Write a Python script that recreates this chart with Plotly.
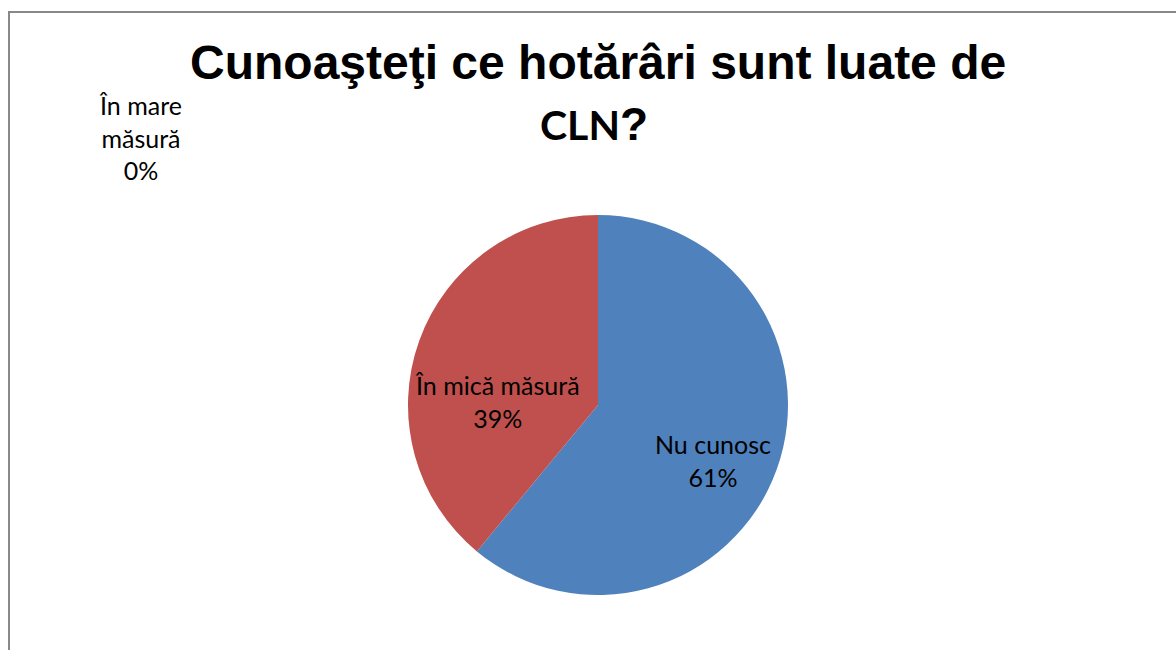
import plotly.graph_objects as go

# Data
categories = ["Nu cunosc", "În mică măsură", "În mare măsură"]
values = [61, 39, 0]
colors = ["#4F81BD", "#C0504D", "#9BBB59"]
title_line1 = "Cunoaşteţi ce hotărâri sunt luate de"
title_line2 = "CLN"

W, H = 1176, 650
cx, cy, R = 598, 405, 190  # pie centre / radius in pixels

fig = go.Figure()
fig.add_trace(go.Pie(
    labels=categories,
    values=values,
    marker=dict(colors=colors, line=dict(color="white", width=0)),
    sort=False,
    direction="clockwise",
    rotation=0,
    textinfo="none",
    hoverinfo="label+percent",
    showlegend=False,
    domain=dict(x=[(cx - R) / W, (cx + R) / W], y=[1 - (cy + R) / H, 1 - (cy - R) / H]),
))

# Data labels (Excel "best fit" style placement)
total = sum(values)
label_lines = {
    "Nu cunosc": "Nu cunosc",
    "În mică măsură": "În mică măsură",
    "În mare măsură": "În mare<br>măsură",
}
label_pos = {  # (pixel x, pixel y) of label centres
    "Nu cunosc": (713, 460),
    "În mică măsură": (497, 401),
    "În mare măsură": (140, 137),
}
for cat, v in zip(categories, values):
    pct = round(100 * v / total)
    px, py = label_pos[cat]
    fig.add_annotation(
        x=px / W, y=1 - py / H, xref="paper", yref="paper",
        text=f"{label_lines[cat]}<br>{pct}%",
        showarrow=False, xanchor="center", yanchor="middle",
        font=dict(family="Lato, Carlito, sans-serif", size=25, color="black"),
    )

# Title
fig.add_annotation(
    x=598 / W, y=1 - 62 / H, xref="paper", yref="paper",
    text=f"<b>{title_line1}</b>", showarrow=False,
    xanchor="center", yanchor="middle",
    font=dict(family="Liberation Sans, Arial, sans-serif", size=48, color="black"),
)
fig.add_annotation(
    x=594 / W, y=1 - 124 / H, xref="paper", yref="paper",
    text=f"<b><span style='font-family:Lato;font-size:41px'>{title_line2}</span>?</b>",
    showarrow=False, xanchor="center", yanchor="middle",
    font=dict(family="Liberation Sans, Arial, sans-serif", size=46, color="black"),
)

# Chart border (only left and top edges visible; the rest is cropped)
fig.add_shape(type="line", xref="paper", yref="paper",
              x0=9 / W, x1=9 / W, y0=0, y1=1 - 12 / H,
              line=dict(color="#888888", width=2))
fig.add_shape(type="line", xref="paper", yref="paper",
              x0=8 / W, x1=1, y0=1 - 12 / H, y1=1 - 12 / H,
              line=dict(color="#888888", width=2))

fig.update_layout(
    width=W, height=H,
    margin=dict(l=0, r=0, t=0, b=0),
    paper_bgcolor="white", plot_bgcolor="white",
)

fig.write_html(
    "out.html",
    config={"displayModeBar": False},
    post_script="document.body.style.margin='0';document.body.style.overflow='hidden';",
)
